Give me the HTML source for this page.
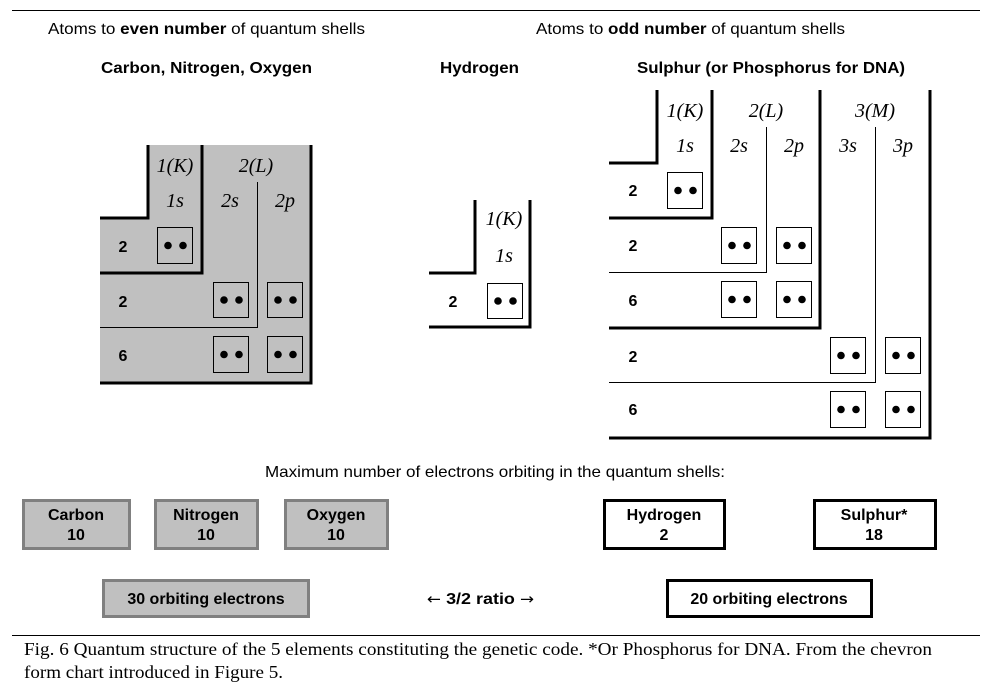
<!DOCTYPE html>
<html>
<head>
<meta charset="utf-8">
<style>
html,body{margin:0;padding:0;background:#fff;}
svg{display:block;}
.s{font-family:"Liberation Sans",Arial,sans-serif;}
.b{font-family:"Liberation Sans",Arial,sans-serif;font-weight:bold;}
.i{font-family:"Liberation Serif","Times New Roman",serif;font-style:italic;font-size:20px;}
.cap{font-family:"Liberation Serif","Times New Roman",serif;font-size:18px;}
</style>
</head>
<body>
<svg width="987" height="686" viewBox="0 0 987 686" xmlns="http://www.w3.org/2000/svg">
<rect width="987" height="686" fill="#fff"/>
<!-- top line -->
<line x1="12" y1="10.5" x2="980" y2="10.5" stroke="#000" stroke-width="1"/>

<!-- headers -->
<text class="s" x="48" y="34" font-size="16" textLength="317" lengthAdjust="spacingAndGlyphs">Atoms to <tspan font-weight="bold">even number</tspan> of quantum shells</text>
<text class="s" x="536" y="34" font-size="16" textLength="309" lengthAdjust="spacingAndGlyphs">Atoms to <tspan font-weight="bold">odd number</tspan> of quantum shells</text>
<text class="b" x="101" y="73" font-size="16" textLength="211" lengthAdjust="spacingAndGlyphs">Carbon, Nitrogen, Oxygen</text>
<text class="b" x="440" y="73" font-size="16" textLength="79" lengthAdjust="spacingAndGlyphs">Hydrogen</text>
<text class="b" x="637" y="73" font-size="16" textLength="268" lengthAdjust="spacingAndGlyphs">Sulphur (or Phosphorus for DNA)</text>

<!-- ===== Carbon chart ===== -->
<polygon points="147,145 311,145 311,383 100,383 100,218 147,218" fill="#c0c0c0"/>
<g fill="none" stroke="#000" stroke-width="3">
  <path d="M148,145 V218 H100"/>
  <path d="M202,145 V273 H100"/>
  <path d="M311,145 V383 H100"/>
</g>
<path d="M257.5,182 V327.5 H100" fill="none" stroke="#000" stroke-width="1"/>
<g fill="none" stroke="#000" stroke-width="1">
  <rect x="157.5" y="227.5" width="35" height="36"/>
  <rect x="213.5" y="282.5" width="35" height="35"/>
  <rect x="267.5" y="282.5" width="35" height="35"/>
  <rect x="213.5" y="336.5" width="35" height="36"/>
  <rect x="267.5" y="336.5" width="35" height="36"/>
</g>
<g fill="#000">
  <circle cx="168" cy="245.5" r="3.8"/><circle cx="183" cy="245.5" r="3.8"/>
  <circle cx="224" cy="300" r="3.8"/><circle cx="239" cy="300" r="3.8"/>
  <circle cx="278" cy="300" r="3.8"/><circle cx="293" cy="300" r="3.8"/>
  <circle cx="224" cy="354.5" r="3.8"/><circle cx="239" cy="354.5" r="3.8"/>
  <circle cx="278" cy="354.5" r="3.8"/><circle cx="293" cy="354.5" r="3.8"/>
</g>
<g class="i" text-anchor="middle">
  <text x="175" y="172">1(K)</text>
  <text x="256" y="172">2(L)</text>
  <text x="175" y="207">1s</text>
  <text x="230" y="207">2s</text>
  <text x="285" y="207">2p</text>
</g>
<g class="b" font-size="16" text-anchor="middle">
  <text x="123" y="252">2</text>
  <text x="123" y="307">2</text>
  <text x="123" y="361">6</text>
</g>

<!-- ===== Hydrogen chart ===== -->
<g fill="none" stroke="#000" stroke-width="3">
  <path d="M475,200 V273 H429"/>
  <path d="M530,200 V327 H429"/>
</g>
<rect x="487.5" y="283.5" width="35" height="35" fill="none" stroke="#000" stroke-width="1"/>
<circle cx="498" cy="301" r="3.8"/><circle cx="513" cy="301" r="3.8"/>
<g class="i" text-anchor="middle">
  <text x="504" y="225">1(K)</text>
  <text x="504" y="262">1s</text>
</g>
<text class="b" font-size="16" text-anchor="middle" x="453" y="307">2</text>

<!-- ===== Sulphur chart ===== -->
<g fill="none" stroke="#000" stroke-width="3">
  <path d="M657,90 V163 H609"/>
  <path d="M712,90 V218 H609"/>
  <path d="M820,90 V328 H609"/>
  <path d="M930,90 V438 H609"/>
</g>
<g fill="none" stroke="#000" stroke-width="1">
  <path d="M766.5,127 V272.5 H609"/>
  <path d="M875.5,127 V382.5 H609"/>
  <rect x="667.5" y="172.5" width="35" height="36"/>
  <rect x="721.5" y="227.5" width="35" height="36"/>
  <rect x="776.5" y="227.5" width="35" height="36"/>
  <rect x="721.5" y="281.5" width="35" height="36"/>
  <rect x="776.5" y="281.5" width="35" height="36"/>
  <rect x="830.5" y="337.5" width="35" height="36"/>
  <rect x="885.5" y="337.5" width="35" height="36"/>
  <rect x="830.5" y="391.5" width="35" height="36"/>
  <rect x="885.5" y="391.5" width="35" height="36"/>
</g>
<g fill="#000">
  <circle cx="678" cy="190.5" r="3.8"/><circle cx="693" cy="190.5" r="3.8"/>
  <circle cx="732" cy="245.5" r="3.8"/><circle cx="747" cy="245.5" r="3.8"/>
  <circle cx="787" cy="245.5" r="3.8"/><circle cx="802" cy="245.5" r="3.8"/>
  <circle cx="732" cy="299.5" r="3.8"/><circle cx="747" cy="299.5" r="3.8"/>
  <circle cx="787" cy="299.5" r="3.8"/><circle cx="802" cy="299.5" r="3.8"/>
  <circle cx="841" cy="355.5" r="3.8"/><circle cx="856" cy="355.5" r="3.8"/>
  <circle cx="896" cy="355.5" r="3.8"/><circle cx="911" cy="355.5" r="3.8"/>
  <circle cx="841" cy="409.5" r="3.8"/><circle cx="856" cy="409.5" r="3.8"/>
  <circle cx="896" cy="409.5" r="3.8"/><circle cx="911" cy="409.5" r="3.8"/>
</g>
<g class="i" text-anchor="middle">
  <text x="685" y="117">1(K)</text>
  <text x="766" y="117">2(L)</text>
  <text x="875" y="117">3(M)</text>
  <text x="685" y="152">1s</text>
  <text x="739" y="152">2s</text>
  <text x="794" y="152">2p</text>
  <text x="848" y="152">3s</text>
  <text x="903" y="152">3p</text>
</g>
<g class="b" font-size="16" text-anchor="middle">
  <text x="633" y="196">2</text>
  <text x="633" y="251">2</text>
  <text x="633" y="306">6</text>
  <text x="633" y="362">2</text>
  <text x="633" y="415">6</text>
</g>

<!-- ===== Bottom summary ===== -->
<text class="s" x="265" y="477" font-size="16" textLength="460" lengthAdjust="spacingAndGlyphs">Maximum number of electrons orbiting in the quantum shells:</text>

<g fill="#c0c0c0" stroke="#808080" stroke-width="3">
  <rect x="23.5" y="500.5" width="106" height="48"/>
  <rect x="155.5" y="500.5" width="102" height="48"/>
  <rect x="285.5" y="500.5" width="102" height="48"/>
  <rect x="103.5" y="580.5" width="205" height="36"/>
</g>
<g fill="#fff" stroke="#000" stroke-width="3">
  <rect x="604.5" y="500.5" width="120" height="48"/>
  <rect x="814.5" y="500.5" width="121" height="48"/>
  <rect x="667.5" y="580.5" width="204" height="36"/>
</g>
<g class="b" font-size="16" text-anchor="middle">
  <text x="76" y="520">Carbon</text><text x="76" y="540">10</text>
  <text x="206" y="520">Nitrogen</text><text x="206" y="540">10</text>
  <text x="336" y="520">Oxygen</text><text x="336" y="540">10</text>
  <text x="664" y="520">Hydrogen</text><text x="664" y="540">2</text>
  <text x="874" y="520">Sulphur*</text><text x="874" y="540">18</text>
  <text x="206" y="604">30 orbiting electrons</text>
  <text x="769" y="604">20 orbiting electrons</text>
</g>
<text class="b" font-size="16" x="427" y="604" textLength="107" lengthAdjust="spacingAndGlyphs"><tspan font-family="DejaVu Sans" font-weight="normal" font-size="15">←</tspan> 3/2 ratio <tspan font-family="DejaVu Sans" font-weight="normal" font-size="15">→</tspan></text>

<!-- caption -->
<line x1="12" y1="635.5" x2="980" y2="635.5" stroke="#000" stroke-width="1"/>
<text class="cap" x="24" y="655" textLength="908" lengthAdjust="spacingAndGlyphs">Fig. 6 Quantum structure of the 5 elements constituting the genetic code. *Or Phosphorus for DNA. From the chevron</text>
<text class="cap" x="24" y="678" textLength="259" lengthAdjust="spacingAndGlyphs">form chart introduced in Figure 5.</text>
</svg>
</body>
</html>
